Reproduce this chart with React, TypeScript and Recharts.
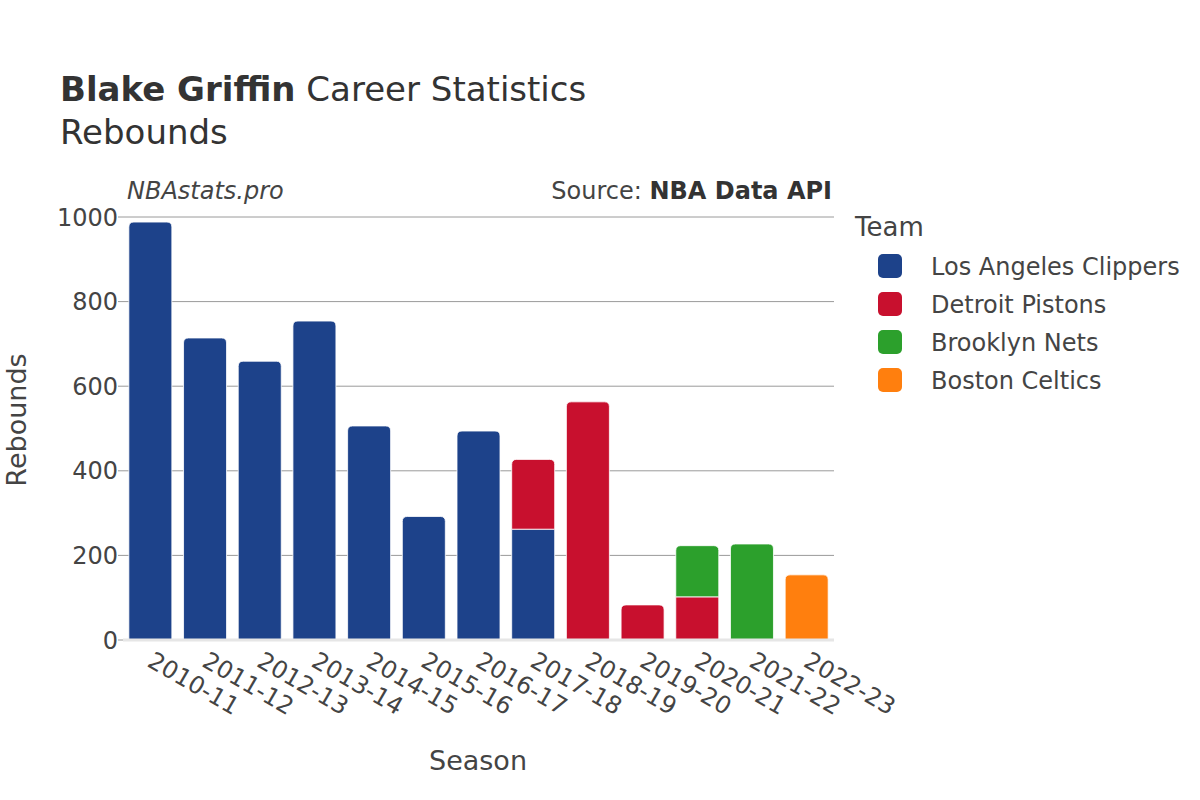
import React from "react";
import { BarChart, Bar, XAxis, YAxis, CartesianGrid } from "recharts";

const seasons = [
  "2010-11", "2011-12", "2012-13", "2013-14", "2014-15", "2015-16", "2016-17",
  "2017-18", "2018-19", "2019-20", "2020-21", "2021-22", "2022-23",
];
const clippers = [988, 714, 659, 754, 506, 292, 494, 262, 0, 0, 0, 0, 0];
const pistons = [0, 0, 0, 0, 0, 0, 0, 165, 563, 83, 102, 0, 0];
const nets = [0, 0, 0, 0, 0, 0, 0, 0, 0, 0, 121, 227, 0];
const celtics = [0, 0, 0, 0, 0, 0, 0, 0, 0, 0, 0, 0, 154];
const yTicks = [0, 200, 400, 600, 800, 1000];

const teams = [
  { key: "lac", name: "Los Angeles Clippers", color: "#1D428A" },
  { key: "det", name: "Detroit Pistons", color: "#C8102E" },
  { key: "bkn", name: "Brooklyn Nets", color: "#2CA02C" },
  { key: "bos", name: "Boston Celtics", color: "#FF7F0E" },
];

const data = seasons.map((s, i) => ({
  season: s,
  lac: clippers[i],
  det: pistons[i],
  bkn: nets[i],
  bos: celtics[i],
}));

const FONT = "'DejaVu Sans', Verdana, sans-serif";
const TEXT = "#444";

function topKey(p: any): string | null {
  let t: string | null = null;
  for (const tm of teams) if (p && p[tm.key] > 0) t = tm.key;
  return t;
}

const makeShape = (key: string) => (props: any) => {
  const { x, y, width, height, fill, payload } = props;
  if (!height || height <= 0) return <g />;
  const r = topKey(payload) === key ? Math.min(5, width / 2, height) : 0;
  const d = `M${x},${y + height} L${x},${y + r} Q${x},${y} ${x + r},${y} L${x + width - r},${y} Q${x + width},${y} ${x + width},${y + r} L${x + width},${y + height} Z`;
  return <path d={d} fill={fill} stroke="#fff" strokeWidth={0.8} />;
};

const XTick = (props: any) => {
  const { x, payload } = props;
  return (
    <text
      x={0}
      y={0}
      dy="0.36em"
      textAnchor="start"
      transform={`translate(${x},658) rotate(30)`}
      fontSize={24}
      fontFamily={FONT}
      fill={TEXT}
    >
      {payload.value}
    </text>
  );
};

export default function App() {
  return (
    <div style={{ position: "absolute", left: 0, top: 0, width: 1200, height: 800, background: "#fff" }}>
      <BarChart
        width={1200}
        height={800}
        data={data}
        margin={{ top: 217, right: 366, bottom: 0, left: 0 }}
        barCategoryGap="10.7%"
      >
        <CartesianGrid horizontal vertical={false} stroke="#9a9a9a" strokeWidth={1} />
        <XAxis
          dataKey="season"
          height={160}
          tickLine={false}
          axisLine={{ stroke: "#e6e6e6", strokeWidth: 3 }}
          tick={<XTick />}
          interval={0}
        />
        <YAxis
          width={123}
          domain={[0, 1000]}
          ticks={yTicks}
          interval={0}
          tickSize={5}
          tickMargin={0}
          tickLine={{ stroke: "#9a9a9a" }}
          axisLine={false}
          tick={{ fontSize: 24, fontFamily: FONT, fill: TEXT }}
        />
        {teams.map((t) => (
          <Bar
            key={t.key}
            dataKey={t.key}
            name={t.name}
            stackId="a"
            fill={t.color}
            isAnimationActive={false}
            shape={makeShape(t.key)}
          />
        ))}
      </BarChart>
      <svg
        width={1200}
        height={800}
        style={{ position: "absolute", left: 0, top: 0, pointerEvents: "none" }}
      >
        <text x={60} y={101} fontSize={34} fontFamily={FONT} fill="#333">
          <tspan fontWeight="bold">Blake Griffin</tspan> Career Statistics
        </text>
        <text x={60} y={144} fontSize={34} fontFamily={FONT} fill="#333">Rebounds</text>
        <text x={127} y={199} fontSize={24} fontStyle="italic" fontFamily={FONT} fill={TEXT}>
          NBAstats.pro
        </text>
        <text x={832} y={199} textAnchor="end" fontSize={24} fontFamily={FONT} fill={TEXT}>
          Source: <tspan fontWeight="bold" fill="#333">NBA Data API</tspan>
        </text>
        <text
          x={0}
          y={0}
          transform="translate(26,420) rotate(-90)"
          textAnchor="middle"
          fontSize={27}
          fontFamily={FONT}
          fill={TEXT}
        >
          Rebounds
        </text>
        <text x={478} y={770} textAnchor="middle" fontSize={27} fontFamily={FONT} fill={TEXT}>
          Season
        </text>
        <g transform="translate(840,200)">
          <text x={15} y={36} fontSize={26} fontFamily={FONT} fill={TEXT}>Team</text>
          {teams.map((t, i) => {
            const cy = 66 + i * 38;
            return (
              <g key={t.key}>
                <rect x={38} y={cy - 12} width={24} height={24} rx={5} fill={t.color} />
                <text x={91} y={cy} dy="0.36em" fontSize={24} fontFamily={FONT} fill={TEXT}>
                  {t.name}
                </text>
              </g>
            );
          })}
        </g>
      </svg>
    </div>
  );
}
